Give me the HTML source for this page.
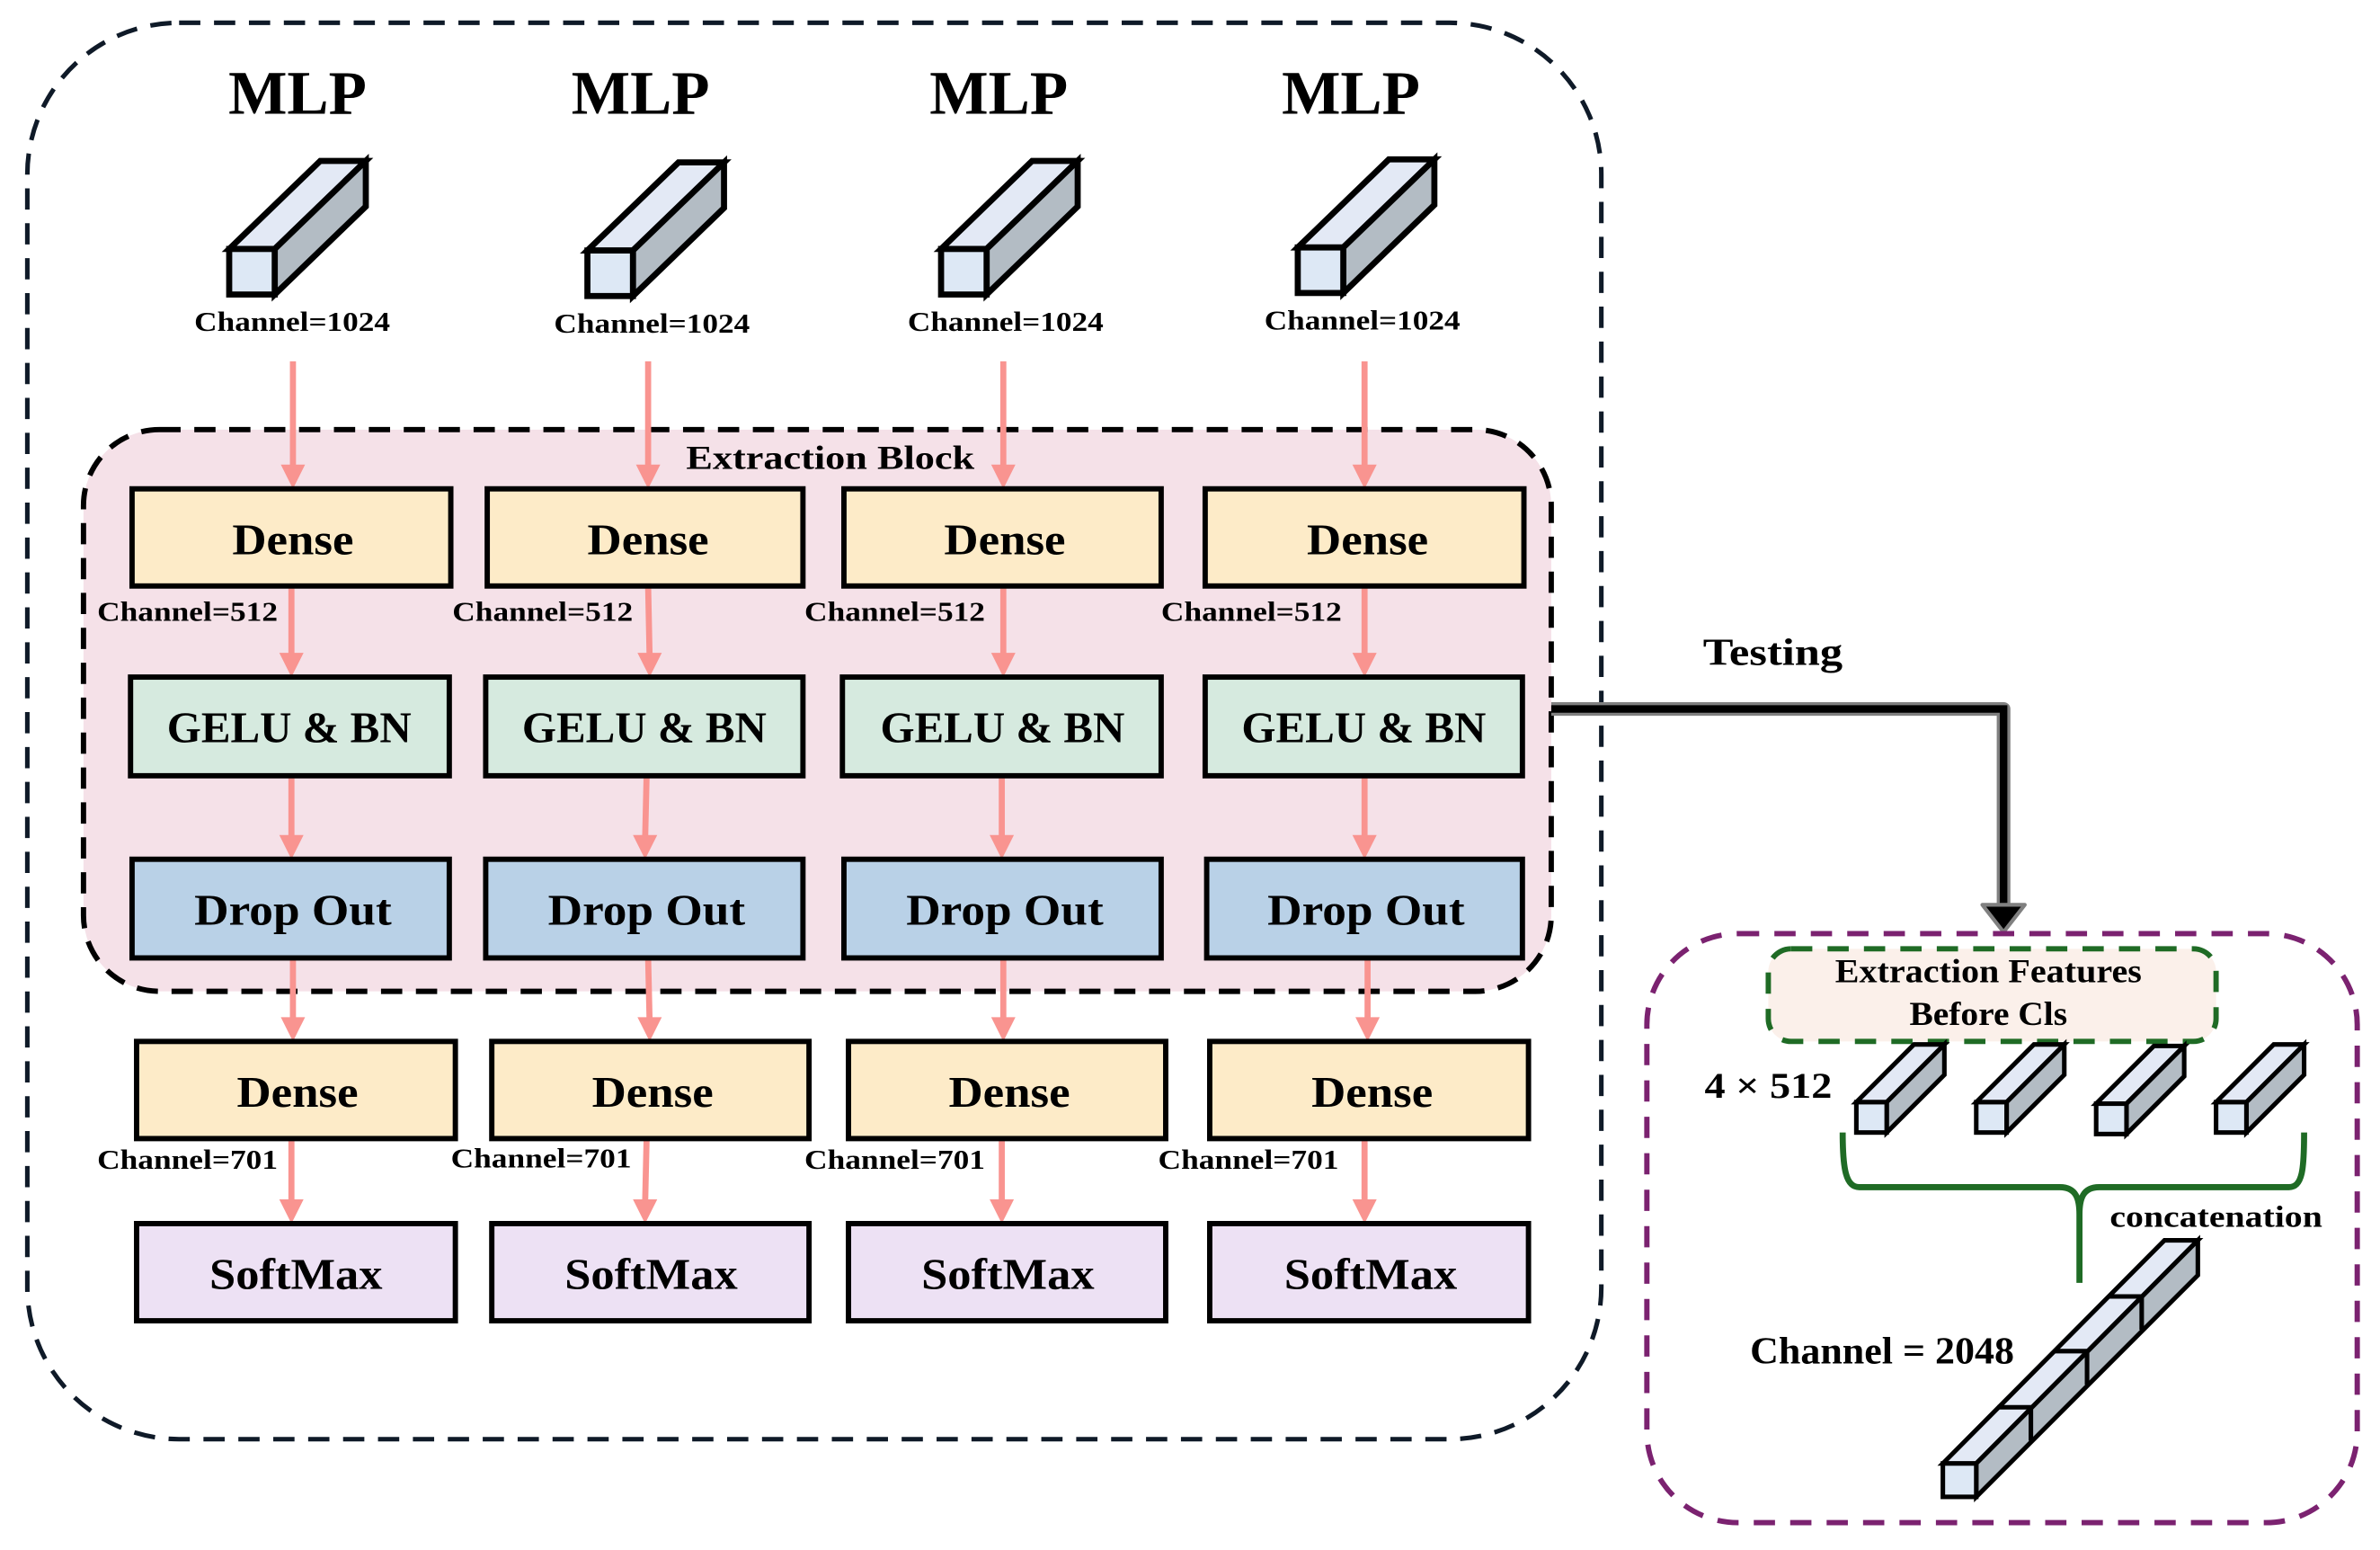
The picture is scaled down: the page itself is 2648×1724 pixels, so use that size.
<!DOCTYPE html>
<html><head><meta charset="utf-8"><style>
html,body{margin:0;padding:0;background:#fff;}
svg{display:block;}
text{font-family:"Liberation Serif",serif;font-weight:bold;fill:#000;}
</style></head><body>
<svg width="2648" height="1724" viewBox="0 0 1568 1021" preserveAspectRatio="none" xmlns="http://www.w3.org/2000/svg">
<defs>
<g id="cube">
<polygon points="0,0 60,-58 90,-58 30,0" fill="#e3e9f5" stroke="#000" stroke-width="4"/>
<polygon points="30,0 90,-58 90,-28 30,30" fill="#b3bcc4" stroke="#000" stroke-width="4"/>
<rect x="0" y="0" width="30" height="30" fill="#dde8f5" stroke="#000" stroke-width="4"/>
</g>
<g id="scube">
<polygon points="0,0 38,-38 58,-38 20,0" fill="#e3e9f5" stroke="#000" stroke-width="3"/>
<polygon points="20,0 58,-38 58,-18 20,20" fill="#b3bcc4" stroke="#000" stroke-width="3"/>
<rect x="0" y="0" width="20" height="20" fill="#dde8f5" stroke="#000" stroke-width="3"/>
</g>
<polygon id="ah" points="-8,-16 8,-16 0,0" fill="#f99490"/>
</defs>

<rect x="18" y="15" width="1037" height="933" rx="100" fill="none" stroke="#0f1a28" stroke-width="3" stroke-dasharray="14,9"/>

<rect x="55" y="283" width="967" height="370" rx="50" fill="#f5e1e8" stroke="#000" stroke-width="3.5" stroke-dasharray="14,9"/>
<text x="452" y="309" font-size="22" textLength="190" lengthAdjust="spacingAndGlyphs">Extraction Block</text>

<g font-size="41" text-anchor="middle">
<text x="196" y="75">MLP</text>
<text x="422" y="75">MLP</text>
<text x="658" y="75">MLP</text>
<text x="890" y="75">MLP</text>
</g>

<use href="#cube" x="151" y="164"/>
<use href="#cube" x="387" y="165"/>
<use href="#cube" x="620" y="164"/>
<use href="#cube" x="855" y="163"/>

<g font-size="18">
<text x="128" y="218" textLength="129" lengthAdjust="spacingAndGlyphs">Channel=1024</text>
<text x="365" y="219" textLength="129" lengthAdjust="spacingAndGlyphs">Channel=1024</text>
<text x="598" y="218" textLength="129" lengthAdjust="spacingAndGlyphs">Channel=1024</text>
<text x="833" y="217" textLength="129" lengthAdjust="spacingAndGlyphs">Channel=1024</text>
</g>

<g stroke="#f99490" stroke-width="4" fill="none">
<line x1="193" y1="238" x2="193" y2="310"/><line x1="192" y1="386" x2="192" y2="434"/><line x1="192" y1="511" x2="192" y2="554"/><line x1="193" y1="631" x2="193" y2="674"/><line x1="192" y1="750" x2="192" y2="794"/>
<line x1="427" y1="238" x2="427" y2="310"/><line x1="427" y1="386" x2="428" y2="434"/><line x1="426" y1="511" x2="425" y2="554"/><line x1="427" y1="631" x2="428" y2="674"/><line x1="426" y1="750" x2="425" y2="794"/>
<line x1="661" y1="238" x2="661" y2="310"/><line x1="661" y1="386" x2="661" y2="434"/><line x1="660" y1="511" x2="660" y2="554"/><line x1="661" y1="631" x2="661" y2="674"/><line x1="660" y1="750" x2="660" y2="794"/>
<line x1="899" y1="238" x2="899" y2="310"/><line x1="899" y1="386" x2="899" y2="434"/><line x1="899" y1="511" x2="899" y2="554"/><line x1="901" y1="631" x2="901" y2="674"/><line x1="899" y1="750" x2="899" y2="794"/>
</g>
<g>
<use href="#ah" x="193" y="322"/><use href="#ah" x="192" y="446"/><use href="#ah" x="192" y="566"/><use href="#ah" x="193" y="686"/><use href="#ah" x="192" y="806"/>
<use href="#ah" x="427" y="322"/><use href="#ah" x="428" y="446"/><use href="#ah" x="425" y="566"/><use href="#ah" x="428" y="686"/><use href="#ah" x="425" y="806"/>
<use href="#ah" x="661" y="322"/><use href="#ah" x="661" y="446"/><use href="#ah" x="660" y="566"/><use href="#ah" x="661" y="686"/><use href="#ah" x="660" y="806"/>
<use href="#ah" x="899" y="322"/><use href="#ah" x="899" y="446"/><use href="#ah" x="899" y="566"/><use href="#ah" x="901" y="686"/><use href="#ah" x="899" y="806"/>
</g>

<g stroke="#000" stroke-width="3.5">
<rect x="87" y="322" width="210" height="64" fill="#fdebc8"/>
<rect x="321" y="322" width="208" height="64" fill="#fdebc8"/>
<rect x="556" y="322" width="209" height="64" fill="#fdebc8"/>
<rect x="794" y="322" width="210" height="64" fill="#fdebc8"/>
<rect x="86" y="446" width="210" height="65" fill="#d6eadf"/>
<rect x="320" y="446" width="209" height="65" fill="#d6eadf"/>
<rect x="555" y="446" width="210" height="65" fill="#d6eadf"/>
<rect x="794" y="446" width="209" height="65" fill="#d6eadf"/>
<rect x="87" y="566" width="209" height="65" fill="#b9d1e7"/>
<rect x="320" y="566" width="209" height="65" fill="#b9d1e7"/>
<rect x="556" y="566" width="209" height="65" fill="#b9d1e7"/>
<rect x="795" y="566" width="208" height="65" fill="#b9d1e7"/>
<rect x="90" y="686" width="210" height="64" fill="#fdebc8"/>
<rect x="324" y="686" width="209" height="64" fill="#fdebc8"/>
<rect x="559" y="686" width="209" height="64" fill="#fdebc8"/>
<rect x="797" y="686" width="210" height="64" fill="#fdebc8"/>
<rect x="90" y="806" width="210" height="64" fill="#ede1f4"/>
<rect x="324" y="806" width="209" height="64" fill="#ede1f4"/>
<rect x="559" y="806" width="209" height="64" fill="#ede1f4"/>
<rect x="797" y="806" width="210" height="64" fill="#ede1f4"/>
</g>

<g font-size="29">
<text x="153" y="365" textLength="80" lengthAdjust="spacingAndGlyphs">Dense</text><text x="387" y="365" textLength="80" lengthAdjust="spacingAndGlyphs">Dense</text><text x="622" y="365" textLength="80" lengthAdjust="spacingAndGlyphs">Dense</text><text x="861" y="365" textLength="80" lengthAdjust="spacingAndGlyphs">Dense</text>
<text x="110" y="489" textLength="161" lengthAdjust="spacingAndGlyphs">GELU &amp; BN</text><text x="344" y="489" textLength="161" lengthAdjust="spacingAndGlyphs">GELU &amp; BN</text><text x="580" y="489" textLength="161" lengthAdjust="spacingAndGlyphs">GELU &amp; BN</text><text x="818" y="489" textLength="161" lengthAdjust="spacingAndGlyphs">GELU &amp; BN</text>
<text x="128" y="609" textLength="130" lengthAdjust="spacingAndGlyphs">Drop Out</text><text x="361" y="609" textLength="130" lengthAdjust="spacingAndGlyphs">Drop Out</text><text x="597" y="609" textLength="130" lengthAdjust="spacingAndGlyphs">Drop Out</text><text x="835" y="609" textLength="130" lengthAdjust="spacingAndGlyphs">Drop Out</text>
<text x="156" y="729" textLength="80" lengthAdjust="spacingAndGlyphs">Dense</text><text x="390" y="729" textLength="80" lengthAdjust="spacingAndGlyphs">Dense</text><text x="625" y="729" textLength="80" lengthAdjust="spacingAndGlyphs">Dense</text><text x="864" y="729" textLength="80" lengthAdjust="spacingAndGlyphs">Dense</text>
<text x="138" y="849" textLength="114" lengthAdjust="spacingAndGlyphs">SoftMax</text><text x="372" y="849" textLength="114" lengthAdjust="spacingAndGlyphs">SoftMax</text><text x="607" y="849" textLength="114" lengthAdjust="spacingAndGlyphs">SoftMax</text><text x="846" y="849" textLength="114" lengthAdjust="spacingAndGlyphs">SoftMax</text>
</g>

<g font-size="18">
<text x="64" y="409" textLength="119" lengthAdjust="spacingAndGlyphs">Channel=512</text><text x="298" y="409" textLength="119" lengthAdjust="spacingAndGlyphs">Channel=512</text><text x="530" y="409" textLength="119" lengthAdjust="spacingAndGlyphs">Channel=512</text><text x="765" y="409" textLength="119" lengthAdjust="spacingAndGlyphs">Channel=512</text>
<text x="64" y="770" textLength="119" lengthAdjust="spacingAndGlyphs">Channel=701</text><text x="297" y="769" textLength="119" lengthAdjust="spacingAndGlyphs">Channel=701</text><text x="530" y="770" textLength="119" lengthAdjust="spacingAndGlyphs">Channel=701</text><text x="763" y="770" textLength="119" lengthAdjust="spacingAndGlyphs">Channel=701</text>
</g>

<text x="1122" y="438" font-size="25" textLength="92" lengthAdjust="spacingAndGlyphs">Testing</text>
<path d="M1022,467 L1320,467 L1320,597" fill="none" stroke="#808080" stroke-width="9" stroke-linejoin="round"/>
<path d="M1022,467 L1320,467 L1320,597" fill="none" stroke="#000" stroke-width="5"/>
<polygon points="1306,596 1334,596 1320,614" fill="#000" stroke="#808080" stroke-width="2.5" stroke-linejoin="round"/>

<rect x="1085" y="615" width="468" height="388" rx="60" fill="none" stroke="#7b2270" stroke-width="3.5" stroke-dasharray="14,10"/>
<rect x="1165" y="625" width="295" height="61" rx="15" fill="#fbf0ea" stroke="#1f6b25" stroke-width="3.5" stroke-dasharray="14,10"/>
<text x="1209" y="647" font-size="22" textLength="202" lengthAdjust="spacingAndGlyphs">Extraction Features</text>
<text x="1258" y="675" font-size="22" textLength="104" lengthAdjust="spacingAndGlyphs">Before Cls</text>

<text x="1123" y="723" font-size="24" textLength="84" lengthAdjust="spacingAndGlyphs">4 × 512</text>
<use href="#scube" x="1223" y="726"/>
<use href="#scube" x="1302" y="726"/>
<use href="#scube" x="1381" y="727"/>
<use href="#scube" x="1460" y="726"/>

<path d="M1214,746 C1214,770 1216,782 1225,782 L1357,782 C1368,782 1370,790 1370,800 L1370,845 M1370,800 C1370,790 1372,782 1383,782 L1508,782 C1517,782 1518,770 1518,746" fill="none" stroke="#1f6b25" stroke-width="4"/>
<text x="1390" y="808" font-size="20" textLength="140" lengthAdjust="spacingAndGlyphs">concatenation</text>

<text x="1153" y="898" font-size="25" textLength="174" lengthAdjust="spacingAndGlyphs">Channel = 2048</text>
<g stroke="#000" stroke-width="3">
<polygon points="1280,964 1426,817 1448,817 1302,964" fill="#e3e9f5"/>
<polygon points="1302,964 1448,817 1448,840 1302,986" fill="#b3bcc4"/>
<rect x="1280" y="964" width="22" height="22" fill="#dde8f5"/>
<path d="M1316,927 L1338,927 L1338,949 M1353,890 L1375,890 L1375,912 M1389,854 L1411,854 L1411,876" fill="none"/>
</g>
</svg>
</body></html>
